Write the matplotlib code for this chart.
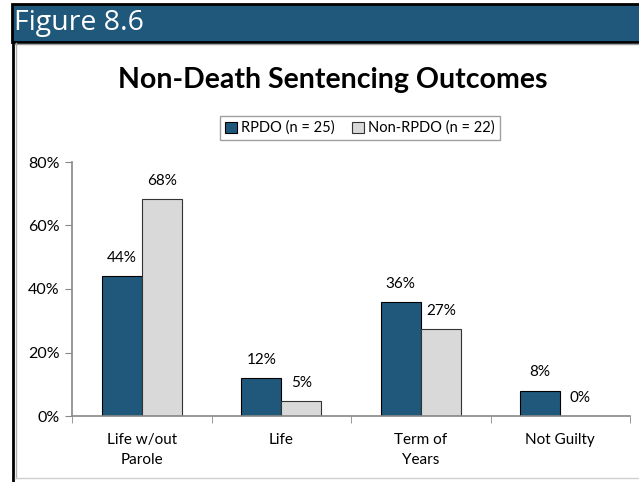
import numpy as np
import matplotlib.pyplot as plt
from matplotlib.patches import Rectangle
from matplotlib.lines import Line2D

categories = ['Life w/out\nParole', 'Life', 'Term of\nYears', 'Not Guilty']
rpdo = [44, 12, 36, 8]
non_rpdo = [68.2, 4.6, 27.3, 0]
series_names = ['RPDO (n = 25)', 'Non-RPDO (n = 22)']
yticks = [0, 20, 40, 60, 80]

blue = '#1f587b'
grey = '#d9d9d9'
font = ['Lato', 'DejaVu Sans']
plt.rcParams['font.family'] = font

W, H = 639, 482
fig = plt.figure(figsize=(W / 100, H / 100), dpi=100)


def fx(px):
    return px / W


def fy(py):
    return 1 - py / H


# header band
fig.patches.append(Rectangle((fx(12), fy(42)), fx(W - 12) + 0.01, fy(4) - fy(42),
                             transform=fig.transFigure, facecolor=blue,
                             edgecolor='black', linewidth=2.0, zorder=0))
fig.text(fx(14), fy(23), 'Figure 8.6', color='white', fontsize=20.5,
         family=['Open Sans', 'DejaVu Sans'], va='center', ha='left')

# frame lines of chart area
fig.add_artist(Line2D([fx(13), fx(13)], [fy(42), 0], color='black', lw=2.0))
fig.add_artist(Line2D([fx(15.5), fx(15.5)], [fy(43), fy(478)], color='#b0b0b0', lw=1.0))
fig.add_artist(Line2D([fx(15), 1], [fy(478), fy(478)], color='#d0d0d0', lw=1.0))
fig.add_artist(Line2D([fx(15), 1], [fy(43.5), fy(43.5)], color='#a0a0a0', lw=1.0))

ax = fig.add_axes([fx(72), fy(416), fx(630) - fx(72), fy(162) - fy(416)])

x = np.arange(len(categories))
bw = 0.287
b1 = ax.bar(x - bw / 2, rpdo, bw, color=blue, edgecolor='black', linewidth=0.8,
            label=series_names[0])
b2 = ax.bar(x + bw / 2, non_rpdo, bw, color=grey, edgecolor='#333333', linewidth=0.8,
            label=series_names[1])

for bars, vals in ((b1, rpdo), (b2, non_rpdo)):
    for rect, v in zip(bars, vals):
        ax.text(rect.get_x() + rect.get_width() / 2, v + 3.5, f'{int(v + 0.5)}%',
                ha='center', va='bottom', fontsize=11)

ax.set_xlim(-0.5, len(categories) - 0.5)
ax.set_ylim(0, 80)
ax.set_yticks(yticks)
ax.set_yticklabels([f'{t}%' for t in yticks], fontsize=11.5)
ax.set_xticks(x)
ax.set_xticklabels(categories, fontsize=11, linespacing=1.6)
ax.tick_params(axis='x', length=0, pad=12)
ax.set_xticks(np.arange(len(categories) + 1) - 0.5, minor=True)
ax.tick_params(axis='x', which='minor', length=5, color='#888888', direction='out')
ax.tick_params(axis='y', length=5, color='#888888', direction='out', pad=4)
for s in ['top', 'right']:
    ax.spines[s].set_visible(False)
for s in ['left', 'bottom']:
    ax.spines[s].set_color('#888888')
    ax.spines[s].set_linewidth(1.2)

fig.text(fx(333), fy(80), 'Non-Death Sentencing Outcomes', fontsize=20.5,
         fontweight='bold', ha='center', va='center')

leg = fig.legend(loc='center', bbox_to_anchor=(fx(360), fy(128)), ncol=2, fontsize=10.5,
                 frameon=True, fancybox=False, edgecolor='#888888',
                 handlelength=0.8, handleheight=0.8, handletextpad=0.3,
                 columnspacing=1.2, borderpad=0.35)
leg.get_frame().set_linewidth(1.0)

fig.savefig('out.png', dpi=100)
